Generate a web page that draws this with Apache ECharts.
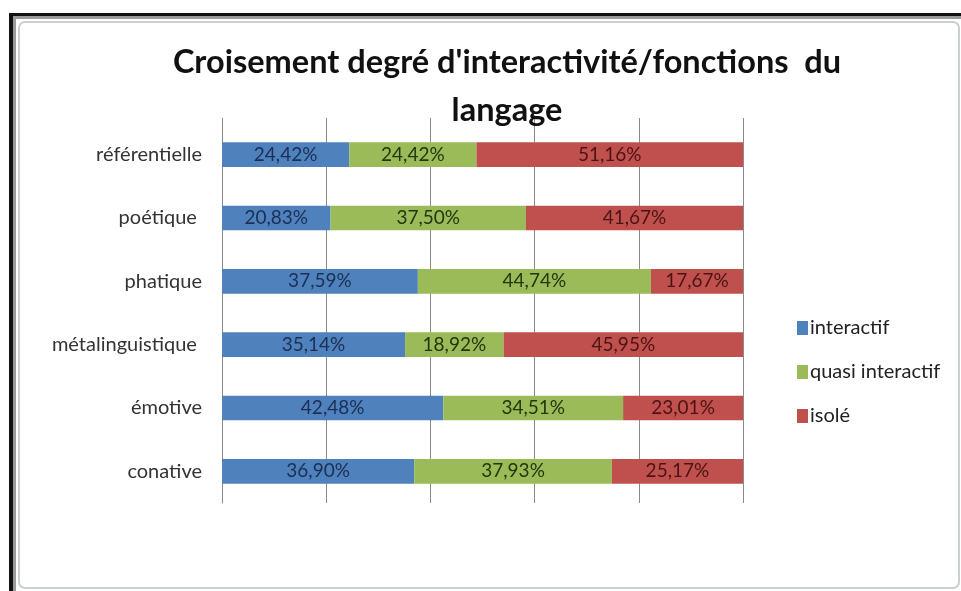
<!DOCTYPE html>
<html>
<head>
<meta charset="utf-8">
<script src="https://cdn.jsdelivr.net/npm/echarts@6/dist/echarts.min.js"></script>
<style>
  html, body { margin: 0; padding: 0; background: #ffffff; }
  #chart { width: 961px; height: 591px; }
</style>
</head>
<body>
<div id="chart"></div>
<script>
// Fonctions du langage (top to bottom)
const categories = ['référentielle', 'poétique ', 'phatique', 'métalinguistique ', 'émotive', 'conative'];
// Percentages per degree of interactivity
const interactif = [24.42, 20.83, 37.59, 35.14, 42.48, 36.90];
const quasiInteractif = [24.42, 37.50, 44.74, 18.92, 34.51, 37.93];
const isole = [51.16, 41.67, 17.67, 45.95, 23.01, 25.17];
const seriesNames = ['interactif', 'quasi interactif', 'isolé'];

const FONT = 'Lato, "Open Sans", sans-serif';
const fmt = v => v.toFixed(2).replace('.', ',') + '%';

function barSeries(name, data, color, labelColor) {
  return {
    name: name,
    type: 'bar',
    stack: 'total',
    data: data,
    barCategoryGap: '61%',
    itemStyle: { color: color },
    label: {
      show: true,
      position: 'inside',
      formatter: p => fmt(p.value),
      color: labelColor,
      fontFamily: FONT,
      fontSize: 19
    }
  };
}

const chart = echarts.init(document.getElementById('chart'));
chart.setOption({
  backgroundColor: '#ffffff',
  animation: false,
  title: {
    text: "Croisement degré d'interactivité/fonctions  du\nlangage",
    left: 502,
    textAlign: 'center',
    top: 34,
    textStyle: {
      fontFamily: FONT,
      fontWeight: 'bold',
      fontSize: 32.5,
      lineHeight: 48,
      color: '#111111'
    }
  },
  legend: {
    orient: 'vertical',
    left: 792,
    top: 313,
    itemWidth: 11,
    itemHeight: 14,
    itemGap: 24,
    icon: 'rect',
    textStyle: { fontFamily: FONT, fontSize: 20, color: '#222222', padding: [0, 0, 0, -3] },
    data: seriesNames
  },
  grid: { left: 222, right: 218, top: 123, bottom: 88, containLabel: false },
  xAxis: {
    type: 'value',
    position: 'top',
    min: 0,
    max: 100,
    interval: 20,
    axisLine: { show: false },
    axisTick: { show: true, length: 5, lineStyle: { color: '#8a8a8a' } },
    axisLabel: { show: false },
    splitLine: { show: true, lineStyle: { color: '#8a8a8a', width: 1 } }
  },
  yAxis: {
    type: 'category',
    inverse: true,
    data: categories,
    axisLine: { show: true, lineStyle: { color: '#8a8a8a' } },
    axisTick: { show: false },
    axisLabel: { margin: 20, fontFamily: FONT, fontSize: 20, color: '#333333' }
  },
  graphic: [
    { type: 'rect', shape: { x: 9, y: 13, width: 4, height: 578 }, style: { fill: '#111111' }, silent: true },
    { type: 'rect', shape: { x: 9, y: 13, width: 952, height: 3 }, style: { fill: '#111111' }, silent: true },
    { type: 'rect', shape: { x: 13, y: 16, width: 3, height: 575 }, style: { fill: '#9a9a9a' }, silent: true },
    { type: 'rect', shape: { x: 13, y: 16, width: 948, height: 3 }, style: { fill: '#9a9a9a' }, silent: true },
    { type: 'rect', shape: { x: 19, y: 22, width: 940, height: 566, r: 6 }, style: { fill: 'none', stroke: '#c9d0d0', lineWidth: 2 }, silent: true }
  ],
  series: [
    barSeries(seriesNames[0], interactif, '#4f81bd', '#1b2f55'),
    barSeries(seriesNames[1], quasiInteractif, '#9bbb59', '#24360e'),
    barSeries(seriesNames[2], isole, '#c0504d', '#4a1414')
  ]
});
</script>
</body>
</html>
